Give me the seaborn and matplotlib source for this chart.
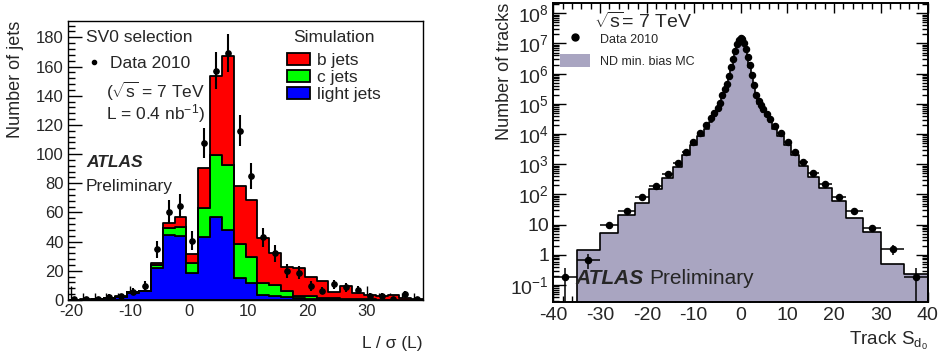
import numpy as np
import pandas as pd
import matplotlib
matplotlib.use("Agg")
import matplotlib.pyplot as plt
import seaborn as sns
from matplotlib.patches import Patch
from matplotlib.lines import Line2D
from matplotlib.ticker import MultipleLocator, LogLocator, FuncFormatter, NullFormatter

sns.set_style("ticks")
plt.rcParams['font.family'] = ['Liberation Sans', 'DejaVu Sans']
plt.rcParams['axes.unicode_minus'] = False
plt.rcParams['mathtext.fontset'] = 'custom'
plt.rcParams['mathtext.rm'] = 'Liberation Sans'
plt.rcParams['mathtext.it'] = 'Liberation Sans:italic'
plt.rcParams['mathtext.bf'] = 'Liberation Sans:bold'

# ---------------- left panel data: L / sigma(L) ----------------
sv0_edges = [float(v) for v in np.arange(-20.5, 39.6, 2.0)]
sv0_centers = [-19.5, -17.5, -15.5, -13.5, -11.5, -9.5, -7.5, -5.5, -3.5, -1.5,
               0.5, 2.5, 4.5, 6.5, 8.5, 10.5, 12.5, 14.5, 16.5, 18.5,
               20.5, 22.5, 24.5, 26.5, 28.5, 30.5, 32.5, 34.5, 36.5, 38.5]
light_jets = [0, 0.3, 0.6, 1.2, 2.0, 5.0, 6.0, 22.2, 44.5, 44.0,
              18.7, 43.4, 56.7, 48.0, 14.9, 11.4, 3.4, 2.7, 2.3, 1.1,
              0.9, 0.7, 0.5, 0.4, 0.3, 0.2, 0.2, 0.1, 0.1, 0.1]
c_jets = [0, 0, 0, 0, 0.2, 0.5, 0.3, 1.5, 4.5, 6.0,
          6.4, 19.6, 42.7, 44.3, 23.5, 18.3, 8.0, 7.6, 3.9, 1.9,
          1.8, 0.9, 0.6, 0.5, 0.3, 0.2, 0.1, 0.1, 0.1, 0.0]
b_jets = [0, 0.1, 0.1, 0.1, 0.2, 0.1, 0.2, 1.4, 4.0, 7.1,
          6.4, 27.7, 54.1, 74.9, 40.0, 38.8, 31.3, 21.7, 16.6, 18.7,
          13.3, 11.4, 4.6, 8.7, 4.0, 3.0, 2.4, 3.5, 1.4, 0.8]
sv0_data = [1.0, 0.7, 0.5, 2.3, 2.5, 5.7, 9.8, 34.7, 60.5, 64.7,
            40.7, 107.8, 157.2, 169.0, 116.0, 85.0, 43.0, 32.0, 19.9, 18.7,
            9.6, 6.4, 10.7, 8.7, 6.9, 3.0, 3.0, 1.0, 3.9, 0.7]
sv0_err = [1.0, 0.8, 0.7, 1.5, 1.6, 2.4, 3.1, 5.9, 7.8, 8.0,
           6.4, 10.4, 12.5, 13.0, 10.8, 9.2, 6.6, 5.7, 4.5, 4.3,
           3.1, 2.5, 3.3, 2.9, 2.6, 1.7, 1.7, 1.0, 2.0, 0.8]
flavours = ["b jets", "c jets", "light jets"]
flav_colors = {"b jets": "#ff0000", "c jets": "#00ff00", "light jets": "#0000ff"}

# ---------------- right panel data: track S_d0 ----------------
trk_edges = [-40.0, -35.0, -30.0, -26.1, -22.6, -19.5, -16.7, -14.4, -12.5, -10.8, -9.4,
             -7.8, -6.8, -6.0, -5.2, -4.6, -4.1, -3.6, -3.1, -2.6, -2.2, -1.7, -1.3,
             -1.0, -0.6, -0.2, 0.2, 0.6, 1.0, 1.3, 1.7, 2.2, 2.6, 3.1, 3.6, 4.1, 4.6,
             5.2, 6.0, 6.8, 7.8, 9.4, 10.8, 12.5, 14.4, 16.7, 19.5, 22.6, 26.1, 30.0,
             35.0, 40.0]
trk_data = [0.19, 0.68, 10, 28, 81, 195, 480, 1070, 2500, 5600,
            1.07e4, 2.0e4, 3.3e4, 4.9e4, 7.1e4, 1.1e5, 1.9e5, 3.0e5, 4.5e5, 8.5e5,
            1.6e6, 3.0e6, 5.5e6, 9.5e6, 1.35e7, 1.48e7, 1.38e7, 1.07e7, 6.5e6, 3.7e6,
            1.9e6, 9.0e5, 4.3e5, 2.0e5, 1.2e5, 9.0e4, 6.6e4, 4.7e4, 3.2e4, 1.8e4,
            1.07e4, 5600, 2600, 1170, 500, 220, 85, 29, 7.6, 1.5, 0.19]
trk_err = [0.17, 0.35, 2.0, 4.0, 6.0, 10, 18, 30, 45, 70,
           0, 0, 0, 0, 0, 0, 0, 0, 0, 0,
           0, 0, 0, 0, 0, 0, 0, 0, 0, 0,
           0, 0, 0, 0, 0, 0, 0, 0, 0, 0,
           0, 70, 45, 30, 18, 10, 6.0, 4.0, 2.0, 0.55, 0.17]
trk_mc = [0, 1.45, 5.2, 21, 54, 150, 360, 830, 2000, 4400,
          8300, 1.5e4, 2.6e4, 4.0e4, 6.0e4, 9.0e4, 1.6e5, 2.6e5, 4.0e5, 7.5e5,
          1.45e6, 2.8e6, 5.2e6, 9.0e6, 1.3e7, 1.45e7, 1.33e7, 1.02e7, 6.1e6, 3.4e6,
          1.7e6, 8.0e5, 3.8e5, 1.75e5, 1.0e5, 7.5e4, 5.5e4, 3.9e4, 2.6e4, 1.5e4,
          8300, 4400, 2000, 850, 370, 160, 60, 17, 5.8, 0.5, 0.23]
mc_color = "#a9a5c1"

W, H = 940, 356
def fx(px):
    return px / W
def fy(py):
    return 1 - py / H

fig = plt.figure(figsize=(9.4, 3.56), dpi=100)

# ================= left panel =================
ax1 = fig.add_axes([fx(68), fy(300), (423 - 68) / W, (300 - 20.7) / H])
rows = []
for fl, vals in zip(flavours, [b_jets, c_jets, light_jets]):
    for xc, v in zip(sv0_centers, vals):
        rows.append({"x": xc, "w": v, "flavour": fl})
df = pd.DataFrame(rows)
sns.histplot(data=df, x="x", weights="w", hue="flavour", hue_order=flavours,
             multiple="stack", bins=sv0_edges, element="step", fill=True,
             palette=flav_colors, edgecolor="black", linewidth=1.3, alpha=1,
             legend=False, ax=ax1)
ax1.errorbar(sv0_centers, sv0_data, yerr=sv0_err, fmt="o", color="black",
             ms=3.8, elinewidth=1.5, capsize=0, zorder=5)
ax1.set_xlim(-20.5, 39.5)
ax1.set_ylim(0, 191.4)
ax1.xaxis.set_major_locator(MultipleLocator(10))
ax1.xaxis.set_minor_locator(MultipleLocator(2))
ax1.yaxis.set_major_locator(MultipleLocator(20))
ax1.yaxis.set_minor_locator(MultipleLocator(4))
ax1.tick_params(which="both", direction="in", top=False, right=False, width=1, color="black")
ax1.tick_params(which="major", length=10, labelsize=12, pad=3)
ax1.tick_params(which="minor", length=5)
for s in ax1.spines.values():
    s.set_visible(True)
    s.set_linewidth(1.0)
    s.set_color("black")
ax1.set_xlabel("L / σ (L)", fontsize=12.5, loc="right")
ax1.set_ylabel("Number of jets", fontsize=13, loc="top")
ax1.xaxis.set_label_coords(1.0, -0.13)
ax1.yaxis.set_label_coords(-0.124, 1.0)

fig.text(fx(86), fy(38), "SV0 selection", fontsize=12.5, va="center", ha="left")
fig.text(fx(106), fy(91), r"($\sqrt{\mathrm{s}}$ = 7 TeV", fontsize=12.5, va="center", ha="left")
fig.text(fx(106), fy(114), r"L = 0.4 nb$^{\mathregular{-1}}$)", fontsize=12.5, va="center", ha="left")
fig.text(fx(86), fy(163), "ATLAS", fontsize=12.5, fontweight="bold", fontstyle="italic", va="center", ha="left")
fig.text(fx(86), fy(186), "Preliminary", fontsize=12.5, va="center", ha="left")

leg_data = ax1.legend(handles=[Line2D([], [], marker="o", ms=3, color="black", ls="none")],
                      labels=["Data 2010"], loc="center left",
                      bbox_to_anchor=(fx(85.5), fy(63)), bbox_transform=fig.transFigure,
                      frameon=False, fontsize=12.5, handlelength=1.0, handletextpad=0.4,
                      borderpad=0, borderaxespad=0)
ax1.add_artist(leg_data)
fig.text(fx(334), fy(38), "Simulation", fontsize=12.5, va="center", ha="center")
sim_handles = [Patch(facecolor=flav_colors[f], edgecolor="black", linewidth=1.3) for f in flavours]
ax1.legend(handles=sim_handles, labels=flavours, loc="upper left",
           bbox_to_anchor=(fx(287), fy(53)), bbox_transform=fig.transFigure,
           frameon=False, fontsize=12.5,
           handlelength=1.35, handleheight=0.7, handletextpad=0.4,
           labelspacing=0.1, borderpad=0, borderaxespad=0)

# ================= right panel =================
ax2 = fig.add_axes([fx(553.3), fy(301.7), (927.7 - 553.3) / W, (301.7 - 2.7) / H])
ax2.set_yscale("log")
trk_centers = [(trk_edges[i] + trk_edges[i + 1]) / 2 for i in range(len(trk_mc))]
trk_halfw = [(trk_edges[i + 1] - trk_edges[i]) / 2 for i in range(len(trk_mc))]
sns.histplot(x=trk_centers, weights=trk_mc, bins=trk_edges, element="step", fill=True,
             color=mc_color, edgecolor="black", linewidth=1.2, alpha=1, ax=ax2)
ax2.errorbar(trk_centers, trk_data, xerr=trk_halfw, yerr=trk_err, fmt="o", color="black",
             ms=4.4, elinewidth=1.1, capsize=0, zorder=5)
ax2.set_xlim(-40, 40)
ax2.set_ylim(0.028, 2.24e8)
ax2.xaxis.set_major_locator(MultipleLocator(10))
ax2.xaxis.set_minor_locator(MultipleLocator(2))
ax2.yaxis.set_major_locator(LogLocator(base=10, numticks=20))
ax2.yaxis.set_minor_locator(LogLocator(base=10, subs=np.arange(2, 10), numticks=20))
ax2.yaxis.set_minor_formatter(NullFormatter())

def log_fmt(v, pos):
    e = int(round(np.log10(v)))
    if e == 0:
        return "1"
    if e == 1:
        return "10"
    return r"10$^{\mathregular{%d}}$" % e

ax2.yaxis.set_major_formatter(FuncFormatter(log_fmt))
ax2.tick_params(which="both", direction="in", top=True, right=True, width=1, color="black")
ax2.tick_params(which="major", length=9, labelsize=14, pad=3)
ax2.tick_params(axis="x", which="major", length=7, pad=4)
ax2.tick_params(which="minor", length=4.5)
for s in ax2.spines.values():
    s.set_visible(True)
    s.set_linewidth(1.4)
    s.set_color("black")
ax2.set_xlabel(r"Track S$_{\mathregular{d}_{\mathregular{0}}}$", fontsize=13.5, loc="right")
ax2.set_ylabel("Number of tracks", fontsize=13, loc="top")
ax2.xaxis.set_label_coords(1.0, -0.095)
ax2.yaxis.set_label_coords(-0.108, 1.0)

fig.text(fx(594), fy(22), r"$\sqrt{\mathrm{s}}$= 7 TeV", fontsize=14, va="center", ha="left")
ax2.legend(handles=[Line2D([], [], marker="o", ms=5, color="black", ls="none"),
                    Patch(facecolor=mc_color, edgecolor="none")],
           labels=["Data 2010", "ND min. bias MC"], loc="upper left",
           bbox_to_anchor=(fx(560), fy(32)), bbox_transform=fig.transFigure,
           frameon=False, fontsize=9, handlelength=2.4, handleheight=1.2,
           handletextpad=0.8, labelspacing=0.7, borderpad=0, borderaxespad=0)

t_atlas = fig.text(fx(575), fy(278), "ATLAS", fontsize=15, fontweight="bold",
                   fontstyle="italic", va="center", ha="left")
fig.canvas.draw()
bb = t_atlas.get_window_extent()
fig.text((bb.x1 + 6) / W, fy(278), "Preliminary", fontsize=15, va="center", ha="left")

fig.savefig("out.png", dpi=100)
